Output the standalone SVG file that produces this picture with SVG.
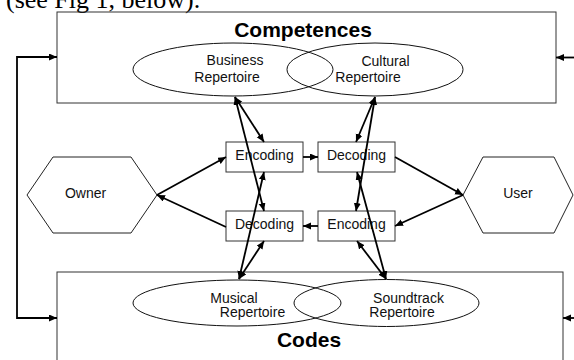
<svg xmlns="http://www.w3.org/2000/svg" width="574" height="360" viewBox="0 0 574 360">
<style>
.frame{fill:none;stroke:#333;stroke-width:1}
.ell{fill:none;stroke:#111;stroke-width:1}
.box{fill:#fff;stroke:#333;stroke-width:1}
.hex{fill:#fff;stroke:#222;stroke-width:1}
.t{font-family:"Liberation Sans",Arial,sans-serif;font-size:14px;fill:#111;text-anchor:middle}
.title{font-family:"Liberation Sans",Arial,sans-serif;font-size:21px;font-weight:bold;fill:#000;text-anchor:middle}
.cap{font-family:"Liberation Serif","Times New Roman",serif;font-size:26px;fill:#000}
.c{fill:none;stroke:#000;stroke-width:1.8;marker-end:url(#ah)}
.d{marker-start:url(#ah)}
</style>
<defs>
<marker id="ah" markerUnits="userSpaceOnUse" markerWidth="9" markerHeight="8" refX="8" refY="3.5" orient="auto-start-reverse">
<path d="M0,0 L8,3.5 L0,7 z" fill="#000"/>
</marker>
</defs>
<text class="cap" x="6" y="7.5">(see Fig 1, below).</text>
<g id="competences">
<rect class="frame" x="57" y="12" width="499" height="91"/>
<text class="title" x="303" y="37">Competences</text>
</g>
<g id="business">
<ellipse class="ell" cx="233" cy="69.5" rx="100" ry="26.5"/>
<text class="t" x="235" y="65">Business</text>
<text class="t" x="227" y="82">Repertoire</text>
</g>
<g id="cultural">
<ellipse class="ell" cx="375" cy="69.5" rx="88" ry="26.5"/>
<text class="t" x="385.5" y="66">Cultural</text>
<text class="t" x="368" y="82">Repertoire</text>
</g>
<g id="codes">
<rect class="frame" x="57" y="272" width="506" height="100"/>
<text class="title" x="309" y="347">Codes</text>
</g>
<g id="musical">
<ellipse class="ell" cx="237" cy="303" rx="104" ry="23"/>
<text class="t" x="234" y="303">Musical</text>
<text class="t" x="252.5" y="317">Repertoire</text>
</g>
<g id="soundtrack">
<ellipse class="ell" cx="386.5" cy="303" rx="92.5" ry="23.5"/>
<text class="t" x="408.5" y="303">Soundtrack</text>
<text class="t" x="402" y="317">Repertoire</text>
</g>
<g id="owner">
<polygon class="hex" points="27,195 53,157 131,157 157,195 131,233 53,233"/>
<text class="t" x="85.5" y="198">Owner</text>
</g>
<g id="user">
<polygon class="hex" points="463,195 483,157 554,157 573,195 554,233 483,233"/>
<text class="t" x="518" y="198">User</text>
</g>
<g id="encoding-owner">
<rect class="box" x="226" y="142" width="77" height="30"/>
<text class="t" x="264.5" y="160">Encoding</text>
</g>
<g id="decoding-user">
<rect class="box" x="318" y="142" width="77" height="30"/>
<text class="t" x="356.5" y="160">Decoding</text>
</g>
<g id="decoding-owner">
<rect class="box" x="226" y="211" width="77" height="30"/>
<text class="t" x="264.5" y="229">Decoding</text>
</g>
<g id="encoding-user">
<rect class="box" x="318" y="211" width="77" height="30"/>
<text class="t" x="356.5" y="229">Encoding</text>
</g>
<g id="connectors">
<path class="c d" d="M57,57 H17 V318 H57"/>
<path class="c" d="M574,57.5 H556"/>
<path class="c" d="M574,318 H563"/>
<path class="c" d="M157,195 L226,157"/>
<path class="c" d="M226,227 L157,195"/>
<path class="c" d="M303,157 H318"/>
<path class="c" d="M318,226 H303"/>
<path class="c" d="M395,157 L463,195"/>
<path class="c" d="M463,195 L395,226"/>
<path class="c d" d="M235,97 L264,142"/>
<path class="c d" d="M235,97 L264,211"/>
<path class="c d" d="M239,279 L264,241"/>
<path class="c d" d="M239,279 L264,172"/>
<path class="c d" d="M375,97 L356,142"/>
<path class="c d" d="M375,97 L356,211"/>
<path class="c d" d="M386,279 L357,241"/>
<path class="c d" d="M386,279 L357,172"/>
</g>
</svg>
